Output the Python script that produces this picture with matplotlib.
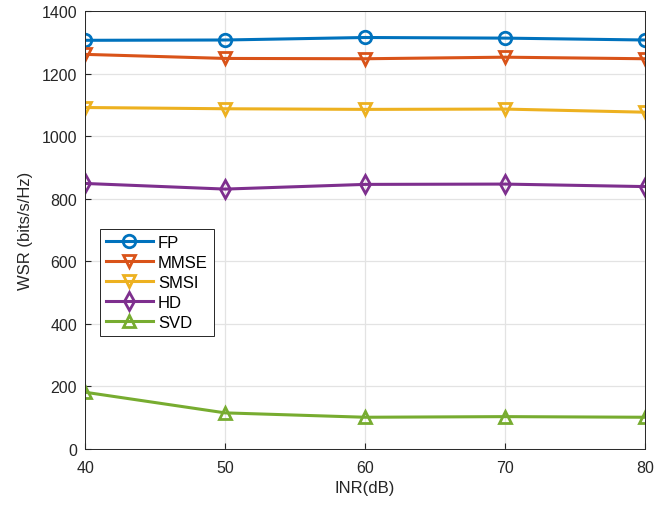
import numpy as np
import matplotlib
matplotlib.use('Agg')
import matplotlib.pyplot as plt

plt.rcParams['font.family'] = ['Liberation Sans', 'DejaVu Sans']

# 数据
inr = [40, 50, 60, 70, 80]
fp = [1307, 1308, 1316, 1314, 1308]
mmse = [1262, 1249, 1248, 1253, 1248]
smsi = [1092, 1088, 1086, 1087, 1077]
hd = [849, 831, 846, 847, 839]
svd = [181, 115, 101, 103, 101]

names = ['FP', 'MMSE', 'SMSI', 'HD', 'SVD']
series = [fp, mmse, smsi, hd, svd]
markers = ['o', 'v', 'v', 'd', '^']
colors = ['#0072BD', '#D95319', '#EDB120', '#7E2F8E', '#77AC30']

fig = plt.figure(figsize=(6.71, 5.10), dpi=100)
ax = fig.add_axes([0.127, 0.118, 0.834, 0.858])

for name, y, m, c in zip(names, series, markers, colors):
    ax.plot(inr, y, color=c, marker=m, markersize=9, markerfacecolor='none',
            markeredgewidth=2, linewidth=2.2, label=name)

ax.set_xlim(40, 80)
ax.set_ylim(0, 1400)
ax.set_xticks(inr)
ax.set_yticks(np.arange(0, 1401, 200))
ax.grid(True, color='#e3e3e3', linewidth=0.9)
ax.set_axisbelow(True)
for s in ax.spines.values():
    s.set_color('#262626')
    s.set_linewidth(0.7)
ax.tick_params(direction='in', labelsize=11.5, colors='#262626', length=4)
ax.tick_params(axis='x', pad=8)
ax.tick_params(axis='y', pad=6)
ax.set_xlabel('INR(dB)', fontsize=12, color='#262626', labelpad=4)
ax.set_ylabel('WSR (bits/s/Hz)', fontsize=12, color='#262626', labelpad=6)

leg = ax.legend(loc='upper left', bbox_to_anchor=(0.027, 0.502), fontsize=12,
                fancybox=False, edgecolor='#262626', framealpha=1,
                handlelength=2.8, borderpad=0.35, labelspacing=0.3,
                handletextpad=0.3, borderaxespad=0)
leg.get_frame().set_linewidth(0.7)

fig.savefig('out.png', dpi=100)
